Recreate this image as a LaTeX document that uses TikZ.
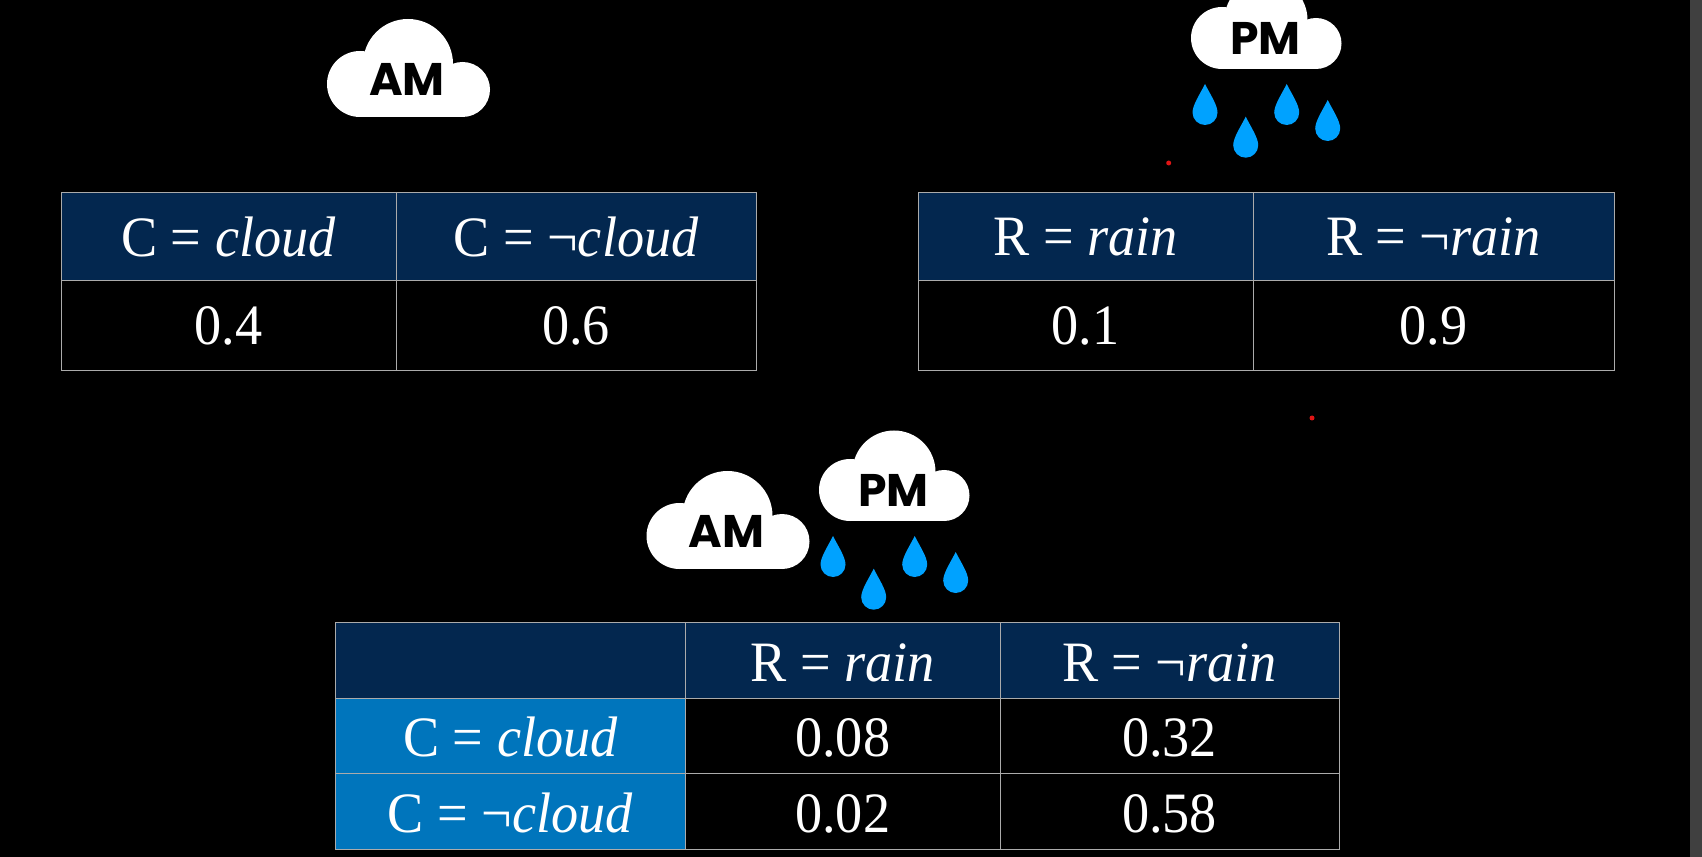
\documentclass[tikz,border=0pt]{standalone}
\usepackage{fontspec}
\setmainfont[FakeStretch=0.95]{Liberation Serif}
\newfontfamily\cloudfont{Poppins}
\usetikzlibrary{positioning}
\definecolor{navycell}{HTML}{03274F}
\definecolor{bluecell}{HTML}{0075BC}
\definecolor{dropblue}{HTML}{00A2FF}
\definecolor{gridline}{HTML}{ABABAB}
\definecolor{sidestrip}{HTML}{404040}
\definecolor{dotred}{HTML}{E01515}
\tikzset{
  cell/.style 2 args={draw=gridline, line width=0.02cm, text=white, inner sep=0pt, outer sep=0pt,
    minimum width=#1*0.02cm, minimum height=#2*0.02cm, font=\fontsize{32.5}{36}\selectfont},
  jointcell/.style={text height=24pt, text depth=0pt},
  headcell/.style={fill=navycell},
  sidecell/.style={fill=bluecell},
  valuecell/.style={fill=black},
  cloudtext/.style={text=black, inner sep=0pt, font=\fontsize{26}{30}\selectfont\cloudfont\bfseries},
  pics/raindrop/.style={code={
    \fill[dropblue] (0,0) .. controls (-5,10) and (-12.5,21) .. (-12.5,28.5)
      .. controls (-12.5,35.4) and (-6.9,41) .. (0,41)
      .. controls (6.9,41) and (12.5,35.4) .. (12.5,28.5)
      .. controls (12.5,21) and (5,10) .. (0,0) -- cycle;
  }},
  pics/amcloud/.style={code={
    \fill[white] (408,64) circle (45);
    \fill[white] (360,84) circle (33);
    \fill[white] (462.5,89.5) circle (27.5);
    \fill[white] (360,70) rectangle (462.5,117);
  }},
  pics/pmcloud/.style={code={
    \fill[white] (1266,20) circle (41.5);
    \fill[white] (1222,38) circle (31);
    \fill[white] (1316,43.5) circle (25.5);
    \fill[white] (1222,25) rectangle (1316,69);
    % drops under the cloud
    \foreach \dx/\dy in {1205/84, 1245.7/116.7, 1286.7/84, 1327.7/100}
      \pic at (\dx,\dy) {raindrop};
  }}
}
\begin{document}
\begin{tikzpicture}[x=0.02cm, y=-0.02cm]
  \path[use as bounding box, clip] (0,0) rectangle (1702,857);
  \fill[black] (0,0) rectangle (1702,857);
  \fill[sidestrip] (1690,0) rectangle (1702,857);

  % clouds on top
  \pic at (0,0) {amcloud};
  \node[cloudtext] (amtop) at (407,79) {AM};
  \pic at (0,0) {pmcloud};
  \node[cloudtext] (pmtop) at (1265.5,38) {PM};

  % stray dots
  \fill[dotred] (1168.7,163) circle (2.5);
  \fill[dotred] (1312,418) circle (2.5);

  % cloud table
  \node[cell={335}{88}, headcell, anchor=north west] (cloudhead) at (61,193) {C = \textit{cloud}};
  \node[cell={360}{88}, headcell, right=0pt of cloudhead] (nocloudhead) {C = ¬\textit{cloud}};
  \node[cell={335}{90}, valuecell, below=0pt of cloudhead] (cloudval) {0.4};
  \node[cell={360}{90}, valuecell, below=0pt of nocloudhead] (nocloudval) {0.6};

  % rain table
  \node[cell={335}{88}, headcell, anchor=north west] (rainhead) at (918,193) {R = \textit{rain}};
  \node[cell={361}{88}, headcell, right=0pt of rainhead] (norainhead) {R = ¬\textit{rain}};
  \node[cell={335}{90}, valuecell, below=0pt of rainhead] (rainval) {0.1};
  \node[cell={361}{90}, valuecell, below=0pt of norainhead] (norainval) {0.9};

  % clouds above the joint table
  \pic at (319.5,452) {amcloud};
  \node[cloudtext] (ambottom) at (726.5,531) {AM};
  \pic at (-372,452) {pmcloud};
  \node[cloudtext] (pmbottom) at (893.5,490) {PM};

  % joint table
  \node[cell={350}{75.5}, headcell, anchor=north west] (corner) at (335.5,622.5) {};
  \node[cell={314.5}{75.5}, headcell, jointcell, right=0pt of corner] (jointrain) {R = \textit{rain}};
  \node[cell={339}{75.5}, headcell, jointcell, right=0pt of jointrain] (jointnorain) {R = ¬\textit{rain}};
  \node[cell={350}{75.5}, sidecell, jointcell, below=0pt of corner] (jointcloud) {C = \textit{cloud}};
  \node[cell={314.5}{75.5}, valuecell, jointcell, below=0pt of jointrain] (val08) {0.08};
  \node[cell={339}{75.5}, valuecell, jointcell, below=0pt of jointnorain] (val32) {0.32};
  \node[cell={350}{75.5}, sidecell, jointcell, below=0pt of jointcloud] (jointnocloud) {C = ¬\textit{cloud}};
  \node[cell={314.5}{75.5}, valuecell, jointcell, below=0pt of val08] (val02) {0.02};
  \node[cell={339}{75.5}, valuecell, jointcell, below=0pt of val32] (val58) {0.58};
\end{tikzpicture}
\end{document}
